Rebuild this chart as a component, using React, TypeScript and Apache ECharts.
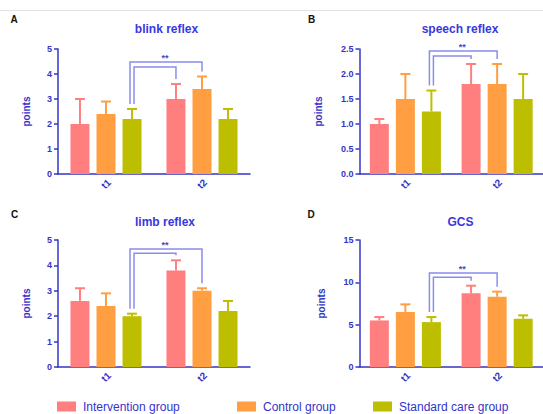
import React, { useEffect, useRef } from 'react';
import * as echarts from 'echarts';

const categories = ['t1', 't2'];
const groupNames = ['Intervention group', 'Control group', 'Standard care group'];

// A: blink reflex
const blinkIntervention = [2.0, 3.0];
const blinkInterventionErr = [1.0, 0.6];
const blinkControl = [2.4, 3.4];
const blinkControlErr = [0.5, 0.5];
const blinkStandard = [2.2, 2.2];
const blinkStandardErr = [0.4, 0.4];

// B: speech reflex
const speechIntervention = [1.0, 1.8];
const speechInterventionErr = [0.1, 0.4];
const speechControl = [1.5, 1.8];
const speechControlErr = [0.5, 0.4];
const speechStandard = [1.25, 1.5];
const speechStandardErr = [0.42, 0.5];

// C: limb reflex
const limbIntervention = [2.6, 3.8];
const limbInterventionErr = [0.5, 0.4];
const limbControl = [2.4, 3.0];
const limbControlErr = [0.5, 0.1];
const limbStandard = [2.0, 2.2];
const limbStandardErr = [0.1, 0.4];

// D: GCS
const gcsIntervention = [5.5, 8.7];
const gcsInterventionErr = [0.4, 0.9];
const gcsControl = [6.5, 8.3];
const gcsControlErr = [0.9, 0.6];
const gcsStandard = [5.3, 5.7];
const gcsStandardErr = [0.6, 0.4];

const panelTitles = ['blink reflex', 'speech reflex', 'limb reflex', 'GCS'];
const panelLetters = ['A', 'B', 'C', 'D'];
const yMax = [5, 2.5, 5, 15];
const yInterval = [1, 0.5, 1, 5];
const yDecimals = [0, 1, 0, 0];
const bracketOuter = [4.48, 2.46, 4.65, 11.1];
const bracketInner = [4.28, 2.36, 4.48, 10.6];
const significance = ['**', '**', '**', '**'];

// styling / layout
const COLORS = ['#FF7F7F', '#FF9F42', '#BEBE00'];
const AXIS_COLOR = '#3434C8';
const TITLE_COLOR = '#3838E0';
const BRACKET_COLOR = '#8C8CEC';
const FONT = '"Liberation Sans", Arial, sans-serif';
const BAR_W = 19;
const BAR_GAP = 0.37;
const LEG_GAP = 5;

const grids = [
  { left: 58, top: 49, width: 192, height: 125 },
  { left: 359.5, top: 49, width: 193, height: 125 },
  { left: 58, top: 240, width: 192, height: 127 },
  { left: 359.5, top: 240, width: 193, height: 127 },
];
const nameGaps = [27, 36, 27, 33];
const titlePos = [[166.5, 29], [460, 29], [165, 222], [460.5, 222]];
const letterPos = [[14, 19.5], [311.5, 19.5], [14.5, 214], [311, 214]];
const legendLeft = [57, 237, 373];

const panelMeans = [
  [blinkIntervention, blinkControl, blinkStandard],
  [speechIntervention, speechControl, speechStandard],
  [limbIntervention, limbControl, limbStandard],
  [gcsIntervention, gcsControl, gcsStandard],
];
const panelErrs = [
  [blinkInterventionErr, blinkControlErr, blinkStandardErr],
  [speechInterventionErr, speechControlErr, speechStandardErr],
  [limbInterventionErr, limbControlErr, limbStandardErr],
  [gcsInterventionErr, gcsControlErr, gcsStandardErr],
];

function buildOption(): any {
  const step = BAR_W * (1 + BAR_GAP);
  const series: any[] = [];
  const xAxis: any[] = [];
  const yAxis: any[] = [];

  for (let p = 0; p < 4; p++) {
    xAxis.push({
      type: 'category',
      gridIndex: p,
      data: categories,
      axisLine: { lineStyle: { color: AXIS_COLOR, width: 1.5 } },
      axisTick: { alignWithLabel: true, length: 4, lineStyle: { color: AXIS_COLOR, width: 1.5 } },
      axisLabel: {
        rotate: 45,
        align: 'center',
        verticalAlign: 'middle',
        margin: 10,
        color: AXIS_COLOR,
        fontWeight: 'bold',
        fontSize: 10,
        fontFamily: FONT,
      },
      splitLine: { show: false },
    });
    const dec = yDecimals[p];
    yAxis.push({
      type: 'value',
      gridIndex: p,
      min: 0,
      max: yMax[p],
      interval: yInterval[p],
      name: 'points',
      nameLocation: 'middle',
      nameGap: nameGaps[p],
      nameTextStyle: { color: AXIS_COLOR, fontWeight: 'bold', fontSize: 10, fontFamily: FONT },
      axisLine: { show: true, lineStyle: { color: AXIS_COLOR, width: 1.5 } },
      axisTick: { show: true, length: 4, lineStyle: { color: AXIS_COLOR, width: 1.5 } },
      axisLabel: {
        color: AXIS_COLOR,
        fontWeight: 'bold',
        fontSize: 9,
        fontFamily: FONT,
        margin: 6,
        formatter: (v: number) => v.toFixed(dec),
      },
      splitLine: { show: false },
    });

    for (let g = 0; g < 3; g++) {
      series.push({
        type: 'bar',
        name: groupNames[g],
        xAxisIndex: p,
        yAxisIndex: p,
        barWidth: BAR_W,
        barGap: BAR_GAP * 100 + '%',
        itemStyle: { color: COLORS[g] },
        data: panelMeans[p][g],
        z: 2,
      });
    }
    for (let g = 0; g < 3; g++) {
      const means = panelMeans[p][g];
      const errs = panelErrs[p][g];
      const offset = (g - 1) * step;
      const color = COLORS[g];
      series.push({
        type: 'custom',
        name: groupNames[g] + ' error',
        xAxisIndex: p,
        yAxisIndex: p,
        encode: { x: 0, y: 1 },
        data: means.map((m, i) => [i, m, errs[i]]),
        z: 3,
        renderItem: (params: any, api: any) => {
          const cat = api.value(0);
          const m = api.value(1);
          const e = api.value(2);
          const base = api.coord([cat, m]);
          const top = api.coord([cat, m + e]);
          const x = base[0] + offset;
          return {
            type: 'group',
            children: [
              { type: 'line', shape: { x1: x, y1: base[1], x2: x, y2: top[1] }, style: { stroke: color, lineWidth: 2, fill: 'none' } },
              { type: 'line', shape: { x1: x - 5, y1: top[1], x2: x + 5, y2: top[1] }, style: { stroke: color, lineWidth: 2, fill: 'none' } },
            ],
          };
        },
      });
    }
    // significance bracket
    const leftTop = panelMeans[p][2][0] + panelErrs[p][2][0];
    const innerRightTop = panelMeans[p][0][1] + panelErrs[p][0][1];
    const outerRightTop = panelMeans[p][1][1] + panelErrs[p][1][1];
    const outer = bracketOuter[p];
    const inner = bracketInner[p];
    const sig = significance[p];
    series.push({
      type: 'custom',
      name: 'bracket' + p,
      xAxisIndex: p,
      yAxisIndex: p,
      encode: { x: 0, y: 1 },
      data: [[0, outer]],
      z: 4,
      renderItem: (params: any, api: any) => {
        const yO = api.coord([0, outer])[1];
        const yI = api.coord([0, inner])[1];
        const xL = api.coord([0, 0])[0] + step;
        const xRi = api.coord([1, 0])[0] - step;
        const xRo = api.coord([1, 0])[0];
        const yL = api.coord([0, leftTop])[1] - LEG_GAP;
        const yRi = api.coord([1, innerRightTop])[1] - LEG_GAP;
        const yRo = api.coord([1, outerRightTop])[1] - LEG_GAP;
        const st = { stroke: BRACKET_COLOR, lineWidth: 1.5, fill: 'none' };
        return {
          type: 'group',
          children: [
            { type: 'polyline', shape: { points: [[xL - 2, yL], [xL - 2, yO], [xRo, yO], [xRo, yRo]] }, style: st },
            { type: 'polyline', shape: { points: [[xL + 2, yL], [xL + 2, yI], [xRi, yI], [xRi, yRi]] }, style: st },
            {
              type: 'text',
              style: {
                text: sig,
                x: (xL + xRo) / 2 - 2,
                y: yO - 4,
                align: 'center',
                verticalAlign: 'middle',
                textAlign: 'center',
                textVerticalAlign: 'middle',
                font: 'bold 9px ' + FONT,
                fill: '#4848C8',
              },
            },
          ],
        };
      },
    });
  }

  const graphic: any[] = [
    { type: 'line', shape: { x1: 0, y1: 10.5, x2: 543, y2: 10.5 }, style: { stroke: '#E2E2E2', lineWidth: 1 } },
  ];
  for (let p = 0; p < 4; p++) {
    graphic.push({
      type: 'text',
      x: titlePos[p][0],
      y: titlePos[p][1],
      style: {
        text: panelTitles[p],
        align: 'center',
        verticalAlign: 'middle',
        textAlign: 'center',
        textVerticalAlign: 'middle',
        font: 'bold 12px ' + FONT,
        fill: TITLE_COLOR,
      },
    });
    graphic.push({
      type: 'text',
      x: letterPos[p][0],
      y: letterPos[p][1],
      style: {
        text: panelLetters[p],
        align: 'center',
        verticalAlign: 'middle',
        textAlign: 'center',
        textVerticalAlign: 'middle',
        font: 'bold 10px ' + FONT,
        fill: '#111111',
      },
    });
  }

  return {
    animation: false,
    grid: grids,
    xAxis,
    yAxis,
    legend: groupNames.map((n, i) => ({
      data: [n],
      left: legendLeft[i],
      top: 400,
      padding: 0,
      itemWidth: 19,
      itemHeight: 10,
      itemGap: 0,
      icon: 'rect',
      selectedMode: false,
      textStyle: { color: AXIS_COLOR, fontSize: 12, lineHeight: 13, fontFamily: FONT, padding: [0, 0, 0, 2] },
    })),
    graphic,
    series,
  };
}

export default function App() {
  const ref = useRef<HTMLDivElement>(null);
  useEffect(() => {
    if (!ref.current) return;
    const chart = echarts.init(ref.current, undefined, { renderer: 'svg' });
    chart.setOption(buildOption());
    return () => chart.dispose();
  }, []);
  return (
    <div
      ref={ref}
      style={{ position: 'absolute', left: 0, top: 0, width: 543, height: 414, background: '#ffffff' }}
    />
  );
}
